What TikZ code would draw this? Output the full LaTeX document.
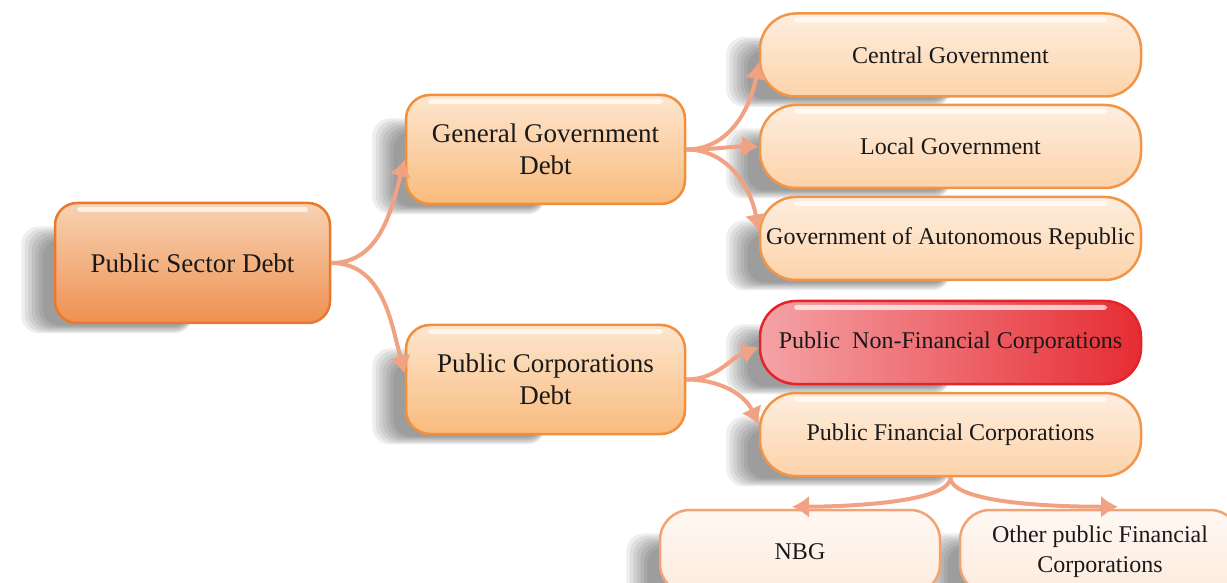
\documentclass[tikz,border=0pt]{standalone}
\usepackage{fontspec}
\setmainfont{Liberation Serif}
\usetikzlibrary{arrows.meta,backgrounds}

\definecolor{rootedge}{HTML}{E8792E}
\definecolor{roottop}{HTML}{F8D2B4}
\definecolor{rootbot}{HTML}{EE9150}
\definecolor{midedge}{HTML}{F0903C}
\definecolor{midtop}{HTML}{FDE6CE}
\definecolor{midbot}{HTML}{F9BB7E}
\definecolor{leafedge}{HTML}{F19549}
\definecolor{leaftop}{HTML}{FEEEDF}
\definecolor{leafbot}{HTML}{FCD3AA}
\definecolor{rededge}{HTML}{E3242B}
\definecolor{redleft}{HTML}{F4A3A6}
\definecolor{redright}{HTML}{E62C33}
\definecolor{paleedge}{HTML}{F3A273}
\definecolor{paletop}{HTML}{FFF8F3}
\definecolor{palebot}{HTML}{FDEBDD}
\definecolor{linkcol}{HTML}{F1A283}

\tikzset{
	gloss/.style={path picture={
		\fill[white,opacity=.7,rounded corners=3pt]
			([xshift=#1,yshift=-4pt]path picture bounding box.north west) rectangle
			([xshift=-#1,yshift=-9pt]path picture bounding box.north east);}},
	box/.style={draw, line width=2.5pt, align=center, text=black!90, inner sep=0pt},
	rootbox/.style={box, rounded corners=22pt, draw=rootedge, top color=roottop, bottom color=rootbot,
		minimum width=275pt, minimum height=120pt, gloss=22pt, font=\fontsize{27}{32}\selectfont},
	midbox/.style={box, rounded corners=24pt, draw=midedge, top color=midtop, bottom color=midbot,
		minimum width=279pt, minimum height=109pt, gloss=22pt, font=\fontsize{27}{32}\selectfont},
	leafbox/.style={box, rounded corners=36pt, draw=leafedge, top color=leaftop, bottom color=leafbot,
		minimum width=381pt, minimum height=83pt, gloss=34pt, font=\fontsize{24}{28}\selectfont},
	redbox/.style={leafbox, draw=rededge, left color=redleft, middle color=redleft!85!redright, right color=redright},
	palebox/.style={box, rounded corners=30pt, draw=paleedge, top color=paletop, bottom color=palebot,
		minimum width=280pt, minimum height=84pt, font=\fontsize{24}{30}\selectfont},
	boxshadow/.style={fill=black, opacity=.065, rounded corners=18pt},
	link/.style={draw=linkcol, line width=4pt, -{Latex[length=17pt,width=22pt]}},
}

\begin{document}
\begin{tikzpicture}[x=1pt,y=1pt]
	\useasboundingbox (0,0) rectangle (1227,582);
	\clip (0,0) rectangle (1227,582);

	% root and the two debt groups
	\node[rootbox] (psd) at (192.5,319) {Public Sector Debt};
	\node[midbox] (ggd) at (545.5,432.5) {General Government\\Debt};
	\node[midbox] (pcd) at (545.5,202.5) {Public Corporations\\Debt};

	% general government
	\node[leafbox] (cg) at (950.5,527) {Central Government};
	\node[leafbox] (lg) at (950.5,435.5) {Local Government};
	\node[leafbox] (gar) at (950.5,343.5) {Government of Autonomous Republic};

	% public corporations
	\node[redbox] (pnfc) at (950.5,239.5) {Public~~Non-Financial Corporations};
	\node[leafbox] (pfc) at (950.5,147.5) {Public Financial Corporations};
	\node[palebox] (nbg) at (800,30) {NBG};
	\node[palebox] (opfc) at (1100,30) {Other public Financial\\Corporations};

	% soft shadows, lower left of every box
	\begin{scope}[on background layer]
		\foreach \n in {psd,ggd,pcd,cg,lg,gar,pnfc,pfc,nbg,opfc}
			\foreach \k in {1,...,7}
				\fill[boxshadow] ([xshift=-8pt-3.5pt*\k,yshift=-1.3pt*\k]\n.south west)
					rectangle ([yshift=-40pt+2.2pt*\k]\n.north);
	\end{scope}

	\draw[link] (psd.east) to[out=0,in=-105] ([yshift=-10pt]ggd.west);
	\draw[link] (psd.east) to[out=0,in=105] ([yshift=6pt]pcd.west);

	\draw[link] (ggd.east) to[out=0,in=-100] ([yshift=-7pt]cg.west);
	\draw[link] (ggd.east) to[out=0,in=180] (lg.west);
	\draw[link] (ggd.east) to[out=0,in=100] ([yshift=7pt]gar.west);

	\draw[link] (pcd.east) to[out=0,in=-160] ([yshift=-5pt]pnfc.west);
	\draw[link] (pcd.east) to[out=0,in=115] ([yshift=10pt]pfc.west);

	\draw[link] (pfc.south) to[out=-90,in=0,looseness=.45] ([xshift=-8pt,yshift=2pt]nbg.north);
	\draw[link] (pfc.south) to[out=-90,in=180,looseness=.45] ([xshift=18pt,yshift=2pt]opfc.north);
\end{tikzpicture}
\end{document}
